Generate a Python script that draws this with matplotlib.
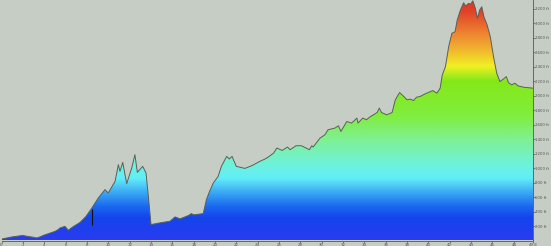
import numpy as np
import matplotlib
matplotlib.use('Agg')
import matplotlib.pyplot as plt
from matplotlib.colors import LinearSegmentedColormap
from matplotlib.patches import Polygon

# distance (mi) and elevation (ft) read from the profile
dist = [0.0, 0.5, 1.0, 1.5, 2.0, 2.5, 3.0, 3.3, 3.6, 4.0, 4.5, 5.0, 5.3, 5.5,
        5.95, 6.26, 6.7, 7.36, 7.9, 8.45, 9.07, 9.7, 10.0, 10.64, 10.95, 11.1,
        11.36, 11.73, 12.2, 12.5, 12.73, 13.23, 13.54, 13.76, 14.01, 14.85,
        15.79, 16.26, 16.73, 17.5, 17.8, 18.0, 18.9, 19.2, 19.5, 19.85, 20.3,
        20.6, 21.1, 21.35, 21.6, 22.0, 22.8, 23.45, 24.2, 24.7, 25.0, 25.5,
        25.8, 26.3, 26.8, 27.04, 27.6, 28.1, 28.85, 29.07, 29.2, 29.85, 30.3,
        30.6, 31.25, 31.57, 31.8, 32.35, 32.8, 33.3, 33.4, 33.85, 34.2, 34.5,
        34.85, 35.2, 35.4, 35.6, 36.1, 36.6, 36.9, 37.3, 37.7, 38.0, 38.3,
        38.6, 38.9, 39.2, 39.7, 40.2, 40.4, 40.8, 41.1, 41.3, 41.6, 41.9, 42.2,
        42.5, 42.7, 43.0, 43.3, 43.5, 43.75, 43.97, 44.16, 44.4, 44.6, 44.8,
        45.0, 45.2, 45.5, 45.8, 46.1, 46.4, 46.7, 47.0, 47.3, 47.5, 47.8, 48.1,
        48.4, 48.9, 49.8]
elev = [20, 35, 50, 60, 70, 55, 45, 35, 50, 75, 100, 125, 150, 175,
        195, 142, 190, 250, 330, 445, 588, 703, 657, 817, 1047, 955,
        1079, 785, 1002, 1185, 941, 1024, 933, 610, 220, 244,
        266, 326, 299, 344, 372, 354, 372, 565, 680, 795, 886,
        1024, 1162, 1126, 1162, 1024, 996, 1033, 1093, 1126, 1153, 1208,
        1277, 1244, 1291, 1254, 1309, 1309, 1254, 1309, 1291, 1415, 1460,
        1530, 1553, 1585, 1506, 1644, 1622, 1691, 1622, 1691, 1668, 1705,
        1736, 1768, 1829, 1768, 1736, 1768, 1943, 2044, 1988, 1943, 1953,
        1933, 1980, 1988, 2026, 2057, 2071, 2035, 2104, 2287, 2402, 2678, 2862,
        2884, 3045, 3183, 3284, 3238, 3275, 3265, 3311, 3207, 3069, 3183,
        3229, 3091, 2977, 2815, 2540, 2311, 2195, 2228, 2264, 2181, 2150, 2173,
        2136, 2118, 2104]

x_ticks = list(range(0, 49, 2)) + [49.8]
x_labels = [str(v) for v in range(0, 49, 2)] + ['49.8']
y_ticks = list(range(200, 3201, 200))
y_labels = ['%d ft' % v for v in y_ticks]

marker_dist = 8.5
marker_range = (220, 440)

x_max = 49.8
y_max = 3322

_stops = [(0.0, '#2a3cf0'), (300, '#1444ec'), (450, '#1a66f0'),
          (650, '#3aa8f4'), (850, '#62eefa'), (1100, '#72f2d0'),
          (1400, '#80f090'), (1700, '#80ee40'), (2200, '#84e818'),
          (2400, '#f2f024'), (2650, '#f0b030'), (2900, '#ec7a30'),
          (3150, '#e04428'), (y_max, '#dc3424')]
cmap = LinearSegmentedColormap.from_list(
    'elev', [(v / y_max, c) for v, c in _stops])

fig = plt.figure(figsize=(5.51, 2.46), dpi=100)
fig.patch.set_facecolor('#c6cdc4')
ax = fig.add_axes([1.5 / 551, 5.5 / 246, 531.5 / 551, 240.5 / 246])
ax.set_facecolor('#c6cdc4')

grad = np.linspace(0, 1, 512).reshape(-1, 1)
img = ax.imshow(grad, cmap=cmap, origin='lower', aspect='auto',
                extent=[0, x_max, 0, y_max], interpolation='bilinear')
poly = Polygon(list(zip(dist, elev)) + [(dist[-1], 0), (dist[0], 0)],
               closed=True, transform=ax.transData, facecolor='none',
               edgecolor='none')
ax.add_patch(poly)
img.set_clip_path(poly)
ax.plot(dist, elev, color='#5a5f5a', lw=0.7)
ax.vlines(marker_dist, *marker_range, color='#111111', lw=0.8)

ax.set_xlim(0, x_max)
ax.set_ylim(0, y_max)
ax.yaxis.tick_right()
ax.set_yticks(y_ticks)
ax.set_yticklabels(y_labels)
ax.set_xticks(x_ticks)
ax.set_xticklabels(x_labels)
ax.tick_params(axis='both', labelsize=2.8, colors='#555555', length=1.2,
               width=0.5, pad=0.4)
for side in ['top', 'left']:
    ax.spines[side].set_visible(False)
for side in ['right', 'bottom']:
    ax.spines[side].set_color('#555555')
    ax.spines[side].set_linewidth(0.6)

fig.savefig('out.png', dpi=100, facecolor=fig.get_facecolor())
